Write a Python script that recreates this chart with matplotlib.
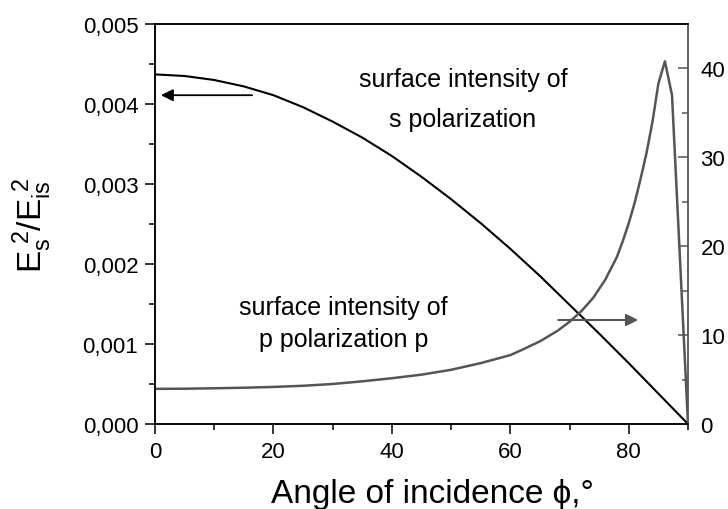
import matplotlib
matplotlib.use('Agg')
import matplotlib.pyplot as plt
from matplotlib.ticker import MultipleLocator

plt.rcParams['font.family'] = ['Liberation Sans', 'DejaVu Sans']
plt.rcParams['mathtext.fontset'] = 'custom'
plt.rcParams['mathtext.rm'] = 'Liberation Sans'
plt.rcParams['mathtext.it'] = 'Liberation Sans'

# s polarization, left axis (E_s^2/E_is^2)
angle_s = [0, 5, 10, 15, 20, 25, 30, 35, 40, 45, 50, 55, 60, 65, 70, 75, 80, 85, 90]
s_int = [0.00437, 0.00435, 0.00430, 0.00422, 0.00411, 0.00396, 0.00378, 0.00358,
         0.00335, 0.00309, 0.00281, 0.00251, 0.00219, 0.00185, 0.00149, 0.00113,
         0.00076, 0.00038, 0.0]

# p polarization, right axis
angle_p = [0, 5, 10, 15, 20, 25, 30, 35, 40, 45, 50, 55, 60, 62, 65, 68, 70, 72, 74,
           76, 78, 79, 80, 81, 82, 83, 84, 85, 86.1, 87.3, 90]
p_int = [3.95, 3.97, 4.02, 4.08, 4.17, 4.3, 4.5, 4.8, 5.15, 5.55, 6.1, 6.85, 7.75, 8.35,
         9.3, 10.5, 11.5, 12.7, 14.2, 16.2, 18.8, 20.6, 22.6, 24.9, 27.6, 30.5, 34.0,
         38.3, 40.8, 37.0, 0.0]

left_ticks = [0, 0.001, 0.002, 0.003, 0.004, 0.005]
left_labels = ['0,000', '0,001', '0,002', '0,003', '0,004', '0,005']
right_ticks = [0, 10, 20, 30, 40]
x_ticks = [0, 20, 40, 60, 80]

gray = '#555555'

fig = plt.figure(figsize=(7.28, 5.10), dpi=100)
ax = fig.add_axes([155/728, 1-425/510, 533/728, 400/510])
ax2 = ax.twinx()

ax.plot(angle_s, s_int, color='black', lw=1.5, zorder=3)
ax2.plot(angle_p, p_int, color=gray, lw=1.8)

ax.set_xlim(0, 90)
ax.set_ylim(0, 0.005)
ax2.set_ylim(0, 45)

ax.set_xticks(x_ticks)
ax.set_xticklabels([str(t) for t in x_ticks])
ax.xaxis.set_minor_locator(MultipleLocator(10))
ax.set_yticks(left_ticks)
ax.set_yticklabels(left_labels)
ax.yaxis.set_minor_locator(MultipleLocator(0.0005))
ax2.set_yticks(right_ticks)
ax2.yaxis.set_minor_locator(MultipleLocator(5))

ax.tick_params(axis='both', which='major', direction='out', length=7, width=1.1,
               labelsize=16, pad=5, top=False)
ax.tick_params(axis='both', which='minor', direction='out', length=4, width=1.1, top=False)
ax2.tick_params(axis='y', which='major', direction='in', length=7, width=1.1,
                color=gray, labelsize=16, pad=9)
ax2.tick_params(axis='y', which='minor', direction='in', length=4, width=1.1, color=gray)

for sp in ['left', 'bottom', 'top']:
    ax.spines[sp].set_linewidth(1.1)
    ax2.spines[sp].set_linewidth(1.1)
ax2.spines['right'].set_color(gray)
ax2.spines['right'].set_linewidth(1.3)
ax.spines['right'].set_visible(False)

ax.set_xlabel('Angle of incidence ϕ,°', fontsize=24)
ax.xaxis.set_label_coords(0.52, -0.135)
ax.set_ylabel(r'$\mathregular{E_s^{\ 2}/E_{is}^{\ 2}}$', fontsize=24)
ax.yaxis.set_label_coords(-0.19, 0.5)

# annotations
ax.text(52, 0.00431, 'surface intensity of', fontsize=18, ha='center', va='center')
ax.text(52, 0.00381, 's polarization', fontsize=18, ha='center', va='center')
ax.text(31.8, 0.00146, 'surface intensity of', fontsize=18, ha='center', va='center')
ax.text(31.8, 0.00106, 'p polarization p', fontsize=18, ha='center', va='center')

ax.annotate('', xy=(1.0, 0.00411), xytext=(16.4, 0.00411),
            arrowprops=dict(arrowstyle='-|>', color='black', lw=1.3,
                            mutation_scale=18, shrinkA=0, shrinkB=0))
ax2.annotate('', xy=(81.6, 11.7), xytext=(68.1, 11.7),
             arrowprops=dict(arrowstyle='-|>', color=gray, lw=1.5,
                             mutation_scale=18, shrinkA=0, shrinkB=0))

fig.savefig('out.png', dpi=100)
